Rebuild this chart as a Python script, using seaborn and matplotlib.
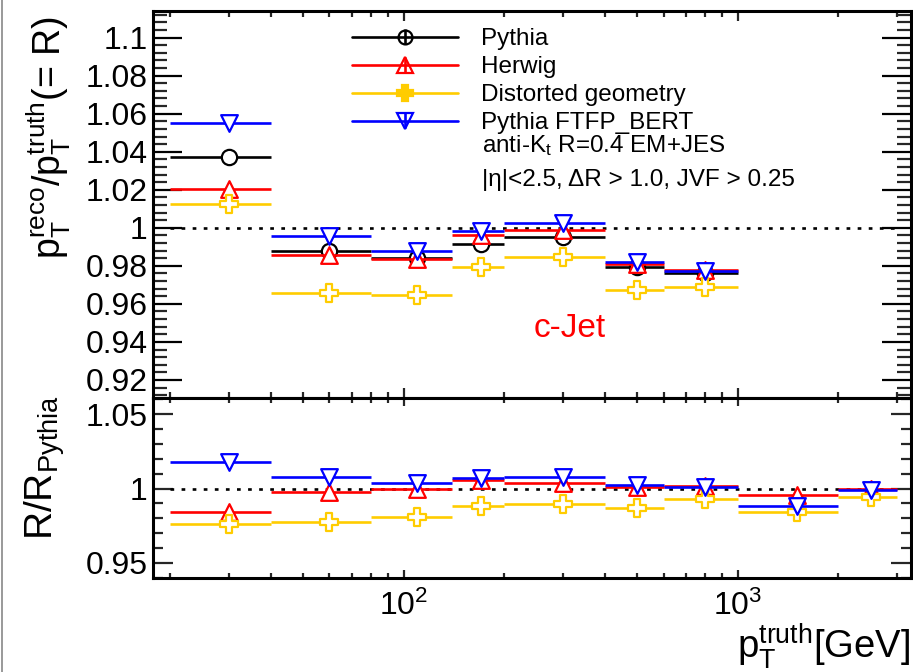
import numpy as np
import matplotlib
matplotlib.use("Agg")
import matplotlib.pyplot as plt
import seaborn as sns
from matplotlib.ticker import MultipleLocator, FuncFormatter, LogLocator, LogFormatterSciNotation, NullFormatter
from matplotlib.legend_handler import HandlerErrorbar
from matplotlib.lines import Line2D

# ---------------- data ----------------
bin_edges = [20, 40, 80, 140, 200, 400, 600, 1000, 2000, 3000]
bin_centers = [30, 60, 110, 170, 300, 500, 800, 1500, 2500]

# response R = pT_reco / pT_truth (upper panel, first 7 bins)
r_pythia = [1.0370, 0.9878, 0.9843, 0.9913, 0.9950, 0.9796, 0.9763]
r_herwig = [1.0206, 0.9859, 0.9835, 0.9963, 0.9988, 0.9810, 0.9779]
r_distorted = [1.0126, 0.9658, 0.9649, 0.9794, 0.9847, 0.9674, 0.9688]
r_ftfp = [1.0550, 0.9957, 0.9876, 0.9983, 1.0025, 0.9820, 0.9773]

# ratio R / R_Pythia (lower panel, 9 bins)
q_herwig = [0.9842, 0.9977, 1.0000, 1.0056, 1.0040, 1.0013, 1.0018, 0.9957, 0.9998]
q_distorted = [0.9764, 0.9773, 0.9809, 0.9883, 0.9896, 0.9872, 0.9928, 0.9840, 0.9943]
q_ftfp = [1.0179, 1.0078, 1.0038, 1.0074, 1.0078, 1.0022, 1.0007, 0.9879, 0.9991]

labels = ["Pythia", "Herwig", "Distorted geometry", "Pythia FTFP_BERT"]
colors = ["black", "#ff0000", "#ffcc00", "#0000ff"]
markers = ["o", "^", "P", "v"]
msizes = [11, 12, 13, 12]

# ---------------- style ----------------
sns.set_theme(style="ticks")
plt.rcParams["font.family"] = ["Liberation Sans", "DejaVu Sans"]
plt.rcParams["mathtext.fontset"] = "custom"
plt.rcParams["mathtext.rm"] = "Liberation Sans"
plt.rcParams["mathtext.it"] = "Liberation Sans"
plt.rcParams["mathtext.default"] = "regular"

W, H = 913, 672
fig = plt.figure(figsize=(W / 100, H / 100), dpi=100)
fig.patch.set_facecolor("white")

L, R = 153, 911
ax1 = fig.add_axes([L / W, 1 - 398 / H, (R - L) / W, (398 - 11) / H])
ax2 = fig.add_axes([L / W, 1 - 578 / H, (R - L) / W, (578 - 398) / H], sharex=ax1)

edges = np.array(bin_edges, dtype=float)
centers = np.array(bin_centers, dtype=float)


def draw(ax, idx, yvals, z):
    n = len(yvals)
    c = centers[:n]
    lo = c - edges[:n]
    hi = edges[1:n + 1] - c
    ax.errorbar(c, yvals, xerr=[lo, hi], fmt="none", ecolor=colors[idx],
                elinewidth=1.9, capsize=0, zorder=z)
    sns.scatterplot(x=c, y=yvals, ax=ax, marker=markers[idx],
                    s=msizes[idx] ** 2, facecolor="white", edgecolor=colors[idx],
                    linewidth=1.6, zorder=z + 0.5, legend=False)


draw(ax1, 0, r_pythia, 3)
draw(ax1, 1, r_herwig, 4)
draw(ax1, 2, r_distorted, 5)
draw(ax1, 3, r_ftfp, 6)

draw(ax2, 1, q_herwig, 4)
draw(ax2, 2, q_distorted, 5)
draw(ax2, 3, q_ftfp, 6)

for ax in (ax1, ax2):
    ax.hlines(1.0, bin_edges[0], bin_edges[-1], colors="black",
              linestyles=(0, (1.4, 2.8)), linewidth=1.9, zorder=2)

ax1.set_xscale("log")
ax1.set_xlim(17.8, 3300)
ax1.set_ylim(0.9105, 1.114)
ax2.set_ylim(0.9397, 1.061)

fmt_g = FuncFormatter(lambda v, p: "{:g}".format(round(v, 4)))
ax1.yaxis.set_major_locator(MultipleLocator(0.02))
ax1.yaxis.set_minor_locator(MultipleLocator(0.004))
ax1.yaxis.set_major_formatter(fmt_g)
ax2.yaxis.set_major_locator(MultipleLocator(0.05))
ax2.yaxis.set_minor_locator(MultipleLocator(0.01))
ax2.yaxis.set_major_formatter(fmt_g)

for ax in (ax1, ax2):
    ax.xaxis.set_major_locator(LogLocator(base=10))
    ax.xaxis.set_minor_locator(LogLocator(base=10, subs=np.arange(2, 10)))
    ax.xaxis.set_minor_formatter(NullFormatter())
    for s in ax.spines.values():
        s.set_linewidth(2.2)
        s.set_color("black")
    ax.set_facecolor("white")

ax2.xaxis.set_major_formatter(LogFormatterSciNotation())
ax1.tick_params(axis="x", which="both", labelbottom=False)

TICK_FS = 23
ax1.tick_params(axis="y", which="major", direction="in", length=21, width=1.6,
                left=True, right=True, labelsize=TICK_FS, pad=4, colors="black")
ax1.tick_params(axis="y", which="minor", direction="in", length=10, width=1.6,
                left=True, right=True)
ax1.tick_params(axis="x", which="major", direction="in", length=7.5, width=1.6,
                top=True, bottom=True)
ax1.tick_params(axis="x", which="minor", direction="in", length=4.5, width=1.6,
                top=True, bottom=True)

ax2.tick_params(axis="y", which="major", direction="in", length=14.5, width=1.6,
                left=True, right=True, labelsize=TICK_FS, pad=4)
ax2.tick_params(axis="y", which="minor", direction="in", length=7, width=1.6,
                left=True, right=True)
ax2.tick_params(axis="x", which="major", direction="in", length=5.5, width=1.6,
                top=True, bottom=True, labelsize=TICK_FS, pad=9)
ax2.tick_params(axis="x", which="minor", direction="in", length=3.6, width=1.6,
                top=True, bottom=True)

for t in ax1.get_yticklabels() + ax2.get_yticklabels() + ax2.get_xticklabels():
    t.set_color("black")

# axis titles
fig.text(49 / W, 1 - 138 / H, r"$p_{T}^{reco}/p_{T}^{truth}$(= R)", rotation=90,
         fontsize=27, ha="center", va="center", color="black")
fig.text(45 / W, 1 - 468 / H, r"$R/R_{Pythia}$", rotation=90,
         fontsize=28, ha="center", va="center", color="black")
fig.text(910 / W, 1 - 658 / H, r"$p_{T}^{truth}$[GeV]", fontsize=27.5,
         ha="right", va="baseline", color="black")

# legend
LEG_FS = 17.5
handles = []
for i in range(4):
    h = ax1.errorbar([np.nan], [np.nan], xerr=[[1], [1]], yerr=[[1], [1]],
                     fmt=markers[i] + "-", color=colors[i], mec=colors[i],
                     mfc=(colors[i] if i == 2 else "none"), ms=msizes[i] - 1,
                     mew=1.6, lw=1.9, elinewidth=1.9)
    handles.append(h)
leg = ax1.legend(handles, labels, loc="upper left",
                 bbox_to_anchor=((352 - L) / (R - L), (398 - 28) / 387),
                 frameon=False, fontsize=LEG_FS, handlelength=4.35, handletextpad=0.95,
                 labelspacing=0.25, borderpad=0, borderaxespad=0, numpoints=1,
                 handler_map={type(handles[0]): HandlerErrorbar(xerr_size=0, yerr_size=0.31)})
for t in leg.get_texts():
    t.set_color("black")

ax1.text((482 - L) / (R - L), (398 - 152) / 387, r"anti-K$_{t}$ R=0.4 EM+JES",
         transform=ax1.transAxes, fontsize=LEG_FS, va="baseline", ha="left", color="black")
ax1.text((482 - L) / (R - L), (398 - 186) / 387, "|η|<2.5, ΔR > 1.0, JVF > 0.25",
         transform=ax1.transAxes, fontsize=LEG_FS, va="baseline", ha="left", color="black")
ax1.text((534 - L) / (R - L), (398 - 337) / 387, "c-Jet", transform=ax1.transAxes,
         fontsize=24, va="baseline", ha="left", color="#ff0000")

# screenshot border line on the left
fig.add_artist(Line2D([2 / W, 2 / W], [0, 1], transform=fig.transFigure,
                      color="#888888", lw=1.2))

fig.savefig("out.png", dpi=100)
